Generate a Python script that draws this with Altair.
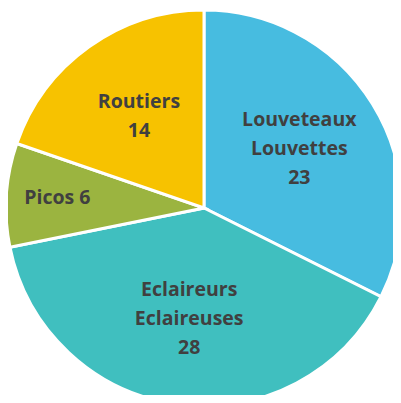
import altair as alt
import pandas as pd

labels = ["Louveteaux\nLouvettes\n23", "Eclaireurs\nEclaireuses\n28", "Picos 6", "Routiers\n14"]
names = ["Louveteaux Louvettes", "Eclaireurs Eclaireuses", "Picos", "Routiers"]
values = [23, 28, 6, 14]
colors = ["#47BCE0", "#40BFBF", "#9BB440", "#F7C200"]

df = pd.DataFrame({"name": names, "label": labels, "value": values, "order": [0, 1, 2, 3]})

CX, CY, R = 196, 200, 198
LH = 29
TOTAL = sum(values)

arcs = alt.Chart(df).mark_arc(outerRadius=R, stroke="white", strokeWidth=3).encode(
    theta=alt.Theta("value:Q", stack=True, scale=alt.Scale(domain=[0, TOTAL])),
    order=alt.Order("order:Q"),
    color=alt.Color("name:N", scale=alt.Scale(domain=names, range=colors), legend=None),
    x=alt.value(CX),
    y=alt.value(CY),
)

text = alt.Chart(df).transform_window(
    cum="sum(value)", sort=[alt.SortField("order")]
).transform_calculate(
    a=f"2 * PI * (datum.cum - datum.value / 2) / {TOTAL}",
    r="datum.value < 10 ? 147 : 112",
    n="length(split(datum.label, '\\n'))",
).transform_calculate(
    px=f"{CX} + datum.r * sin(datum.a)",
    py=f"{CY} - datum.r * cos(datum.a) - (datum.n - 1) * {LH} / 2",
).mark_text(
    font="Open Sans", fontSize=19.5, fontWeight="bold", color="#404040",
    lineBreak="\n", lineHeight=LH, align="center", baseline="middle"
).encode(
    x=alt.X("px:Q", scale=None),
    y=alt.Y("py:Q", scale=None),
    text="label:N",
)

chart = (arcs + text).properties(
    width=385, height=387, padding=0,
    autosize=alt.AutoSizeParams(type="none"),
).configure_view(stroke=None)

chart.save("out.html", embed_options={"renderer": "svg", "actions": False})
